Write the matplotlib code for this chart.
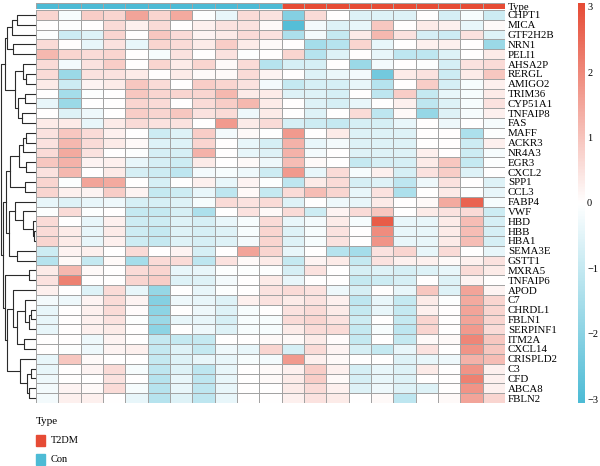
import numpy as np
import matplotlib
matplotlib.use("Agg")
import matplotlib.pyplot as plt
from matplotlib.colors import LinearSegmentedColormap, ListedColormap
from matplotlib.patches import Rectangle

plt.rcParams['font.family'] = ['Liberation Serif', 'DejaVu Serif']

genes = ["CHPT1", "MICA", "GTF2H2B", "NRN1", "PELI1", "AHSA2P", "RERGL", "AMIGO2",
         "TRIM36", "CYP51A1", "TNFAIP8", "FAS", "MAFF", "ACKR3", "NR4A3", "EGR3",
         "CXCL2", "SPP1", "CCL3", "FABP4", "VWF", "HBD", "HBB", "HBA1", "SEMA3E",
         "GSTT1", "MXRA5", "TNFAIP6", "APOD", "C7", "CHRDL1", "FBLN1", "SERPINF1",
         "ITM2A", "CXCL14", "CRISPLD2", "C3", "CFD", "ABCA8", "FBLN2"]

# z-scores, control samples (11 columns)
con_expr = [
    [0.7, -0.15, 0.85, 0.7, 1.55, 0.7, 1.45, -0.05, -0.4, 0.6, 0.5],
    [0.0, -0.05, 0.0, 0.6, 0.25, 0.6, 0.0, 0.25, 0.5, 0.5, 0.1],
    [-0.05, -0.85, -0.55, 0.7, 0.0, 0.95, 0.6, 0.2, 0.35, 0.6, 0.5],
    [0.6, 0.0, -0.4, 0.5, -0.4, 0.7, 0.6, 0.35, 0.85, 0.35, 0.1],
    [1.2, 0.7, 0.6, 0.7, 0.0, -0.15, 0.5, 0.0, 0.5, -0.05, 0.0],
    [0.6, -0.2, 0.5, 0.85, 0.0, 0.7, 0.35, 0.7, 0.1, 0.6, -1.25],
    [0.6, -1.7, 0.5, 0.5, 0.35, 0.0, 0.35, 0.1, 0.1, 0.6, 0.2],
    [0.35, -0.85, 0.2, 0.35, 0.95, 0.6, 0.0, 0.85, 0.7, 0.5, -0.2],
    [0.0, -1.55, -0.05, 0.0, 0.95, 0.7, 0.7, 0.7, 1.2, 0.35, 0.35],
    [-0.4, -1.7, 0.0, 0.0, 0.7, 0.6, 0.0, 0.6, 0.85, 1.2, 0.35],
    [0.0, -0.55, -0.3, 0.0, 0.85, 0.7, 0.95, 0.5, 0.6, -0.3, 0.35],
    [0.35, 0.35, -0.4, 0.35, 0.6, 0.5, 0.5, 0.0, 1.7, 0.35, 0.6],
    [0.5, 0.95, 0.6, 0.25, 0.0, -0.85, -0.55, 0.85, -0.2, 0.1, 0.0],
    [0.5, 1.2, 0.6, 0.35, 0.1, -0.55, -0.55, 0.7, 0.0, -0.4, -0.7],
    [0.6, 1.45, 0.5, 0.0, -0.05, -0.7, -0.7, 1.3, 0.0, -0.4, -0.55],
    [0.95, 1.3, 0.2, 0.25, -0.4, -0.7, -0.85, 0.35, 0.0, 0.1, -0.3],
    [0.5, 1.2, 0.0, 0.35, -0.7, -0.85, -1.1, -0.2, -0.15, -0.3, -0.85],
    [0.7, -0.05, 1.55, 1.45, 0.0, -0.7, 0.0, 0.25, -0.4, 0.2, -0.05],
    [0.7, 0.25, 0.2, 0.85, 0.2, -1.0, -0.85, -0.4, -1.1, 0.1, -1.0],
    [-0.4, -0.55, -0.4, -0.3, -0.7, -0.7, -0.55, -0.15, 0.6, 0.5, 0.6],
    [-0.05, 0.6, -0.05, 0.0, -1.0, -1.0, -0.7, -1.4, 0.0, 0.5, 0.1],
    [0.6, 0.0, -0.4, 0.25, -0.85, -0.85, -0.55, -0.7, -0.4, -0.15, 0.6],
    [0.6, 0.35, -0.4, 0.35, -0.85, -1.0, -0.55, -0.7, -0.55, -0.15, 0.7],
    [0.7, 0.35, -0.4, 0.25, -0.85, -1.0, -0.55, -0.7, -0.55, -0.2, 0.7],
    [-0.85, 0.2, 0.25, 0.0, 0.6, 0.0, 0.2, -0.7, 0.0, 1.55, 0.7],
    [-1.25, 0.1, -1.0, 0.1, -1.55, 0.6, 0.6, -1.1, 0.5, 0.1, 0.35],
    [0.35, 1.2, 0.1, 0.0, 0.6, 0.7, -0.4, -0.4, -0.05, -0.05, -0.05],
    [0.5, 2.15, 0.0, 0.0, 0.7, 0.85, -0.55, -0.55, -0.2, 0.0, 0.35],
    [0.25, 0.0, -0.55, 0.6, -0.4, -1.8, 0.0, -0.4, -0.05, 0.0, 0.5],
    [-0.2, -0.3, 0.2, 0.6, 0.2, -2.1, -0.3, -0.4, -0.55, 0.25, 0.5],
    [-0.4, 0.0, 0.25, 0.6, 0.05, -1.95, 0.0, -0.3, -0.55, -0.15, 0.0],
    [-0.4, 0.0, 0.25, 0.5, -0.05, -1.7, -0.4, -0.4, -0.7, -0.15, -0.15],
    [-0.4, 0.0, 0.25, 0.35, 0.0, -1.95, 0.0, -0.3, -0.55, -0.15, -0.15],
    [0.0, 0.0, -0.3, 0.2, 0.0, -1.0, -1.0, -1.0, 0.0, 0.0, 0.1],
    [0.0, -0.05, -0.3, 0.2, 0.25, -1.0, -0.55, -1.0, -0.3, -0.4, 0.7],
    [-0.4, 0.95, 0.1, 0.0, 0.0, -1.0, -0.55, -0.4, -0.4, -0.15, -0.2],
    [-0.4, 0.0, 0.2, 0.6, -0.15, -1.1, -0.55, -1.1, -0.4, 0.0, 0.1],
    [-0.3, 0.0, 0.0, 0.5, 0.0, -1.25, -0.4, -1.1, -0.4, 0.0, 0.1],
    [-0.2, 0.2, 0.1, 0.6, -0.15, -1.25, -0.4, -1.1, -0.4, 0.0, 0.0],
    [-0.2, 0.25, 0.25, 0.0, -0.4, -1.25, -0.55, -1.1, -0.4, 0.0, 0.0],
]

# z-scores, T2DM samples (10 columns)
t2dm_expr = [
    [-2.1, 0.6, 0.0, -0.55, -0.55, -0.55, 0.0, -0.7, -0.15, -0.85],
    [-2.9, -0.2, -0.55, -0.4, 0.95, 0.0, 0.35, 0.25, -0.4, 0.1],
    [-1.4, -0.2, -1.0, 0.35, 1.2, 0.5, -0.7, -0.85, 0.5, -0.55],
    [0.0, -1.55, -1.25, 0.7, -0.4, 0.0, 0.25, 0.25, 0.0, -1.7],
    [0.7, -1.25, -0.55, 0.0, -0.4, -1.1, -1.1, -0.55, 0.0, 0.35],
    [-0.7, -0.7, 0.0, -1.7, -0.2, 0.0, -0.05, -0.7, 0.5, 0.6],
    [0.0, -0.55, -0.35, -0.2, -2.4, 0.35, 0.5, -0.85, 0.35, 0.95],
    [-1.0, -0.7, -0.7, -0.4, -1.25, 0.0, 0.85, -0.7, -0.15, 0.25],
    [-0.55, -0.55, -0.7, 0.0, -1.1, 0.85, -1.0, -0.4, -0.15, 0.35],
    [0.0, -0.55, -0.7, -0.4, 0.0, 0.25, -1.1, -0.55, -0.15, 0.5],
    [0.0, -0.55, 0.0, 0.6, -1.1, 0.1, -1.8, -0.55, -0.15, 0.25],
    [-0.7, -0.85, -1.0, -0.7, -0.7, -0.4, 0.0, -0.3, 0.0, -0.15],
    [1.7, 0.0, 0.35, -0.55, -0.55, -0.55, 0.0, 0.0, -1.4, -0.05],
    [1.3, -0.4, -0.2, -0.55, -0.55, -0.55, 0.0, 0.0, -0.85, 0.25],
    [1.3, -0.2, 0.0, -0.55, -0.55, -0.55, 0.25, 0.0, -0.85, -0.15],
    [1.1, 0.1, 0.0, -1.0, -0.7, -0.7, 0.35, 0.95, -1.0, -0.05],
    [1.7, -0.4, 0.6, -0.15, 0.25, -0.7, 0.5, 0.85, -0.55, 0.0],
    [-1.1, 0.35, 0.6, -0.7, -0.55, -1.1, -0.3, 0.5, 0.0, -0.55],
    [0.6, 1.1, 0.7, -0.4, 0.5, -1.4, 0.0, 0.35, -0.05, -0.4],
    [-0.55, 0.0, -0.3, -0.4, 0.35, 0.0, 0.1, 1.45, 2.65, -0.15],
    [0.6, -0.85, 0.2, 0.6, 0.95, 0.0, 0.35, 0.5, 0.6, -0.85],
    [-0.4, -0.2, 0.35, -0.15, 2.75, -0.4, -0.4, 0.35, 1.1, -0.7],
    [-0.55, -0.15, 0.5, 0.0, 1.95, -0.4, -0.4, 0.35, 1.1, -0.7],
    [-0.55, -0.15, 0.5, 0.0, 1.8, -0.4, -0.4, 0.35, 1.1, -0.7],
    [-0.4, 0.0, -1.25, -1.55, 0.5, 0.7, -0.4, 0.6, 0.0, -0.4],
    [-1.0, 0.2, 0.35, -1.0, 0.5, 0.25, 0.25, 0.1, 0.25, 0.5],
    [-0.7, 0.5, 0.0, -0.7, -0.55, -0.7, -0.55, -0.4, 0.6, 0.35],
    [-0.4, 0.0, 0.0, -1.0, -0.85, -0.7, 0.0, -0.55, 0.2, 0.0],
    [0.6, 0.5, -0.3, -0.7, 0.0, -0.4, 0.95, -0.55, 1.55, 0.2],
    [0.35, 0.5, 0.25, -1.1, -0.4, -1.0, 0.35, -0.05, 1.45, 0.7],
    [0.5, 0.6, 0.35, -1.0, -0.4, -1.0, 0.25, 0.0, 1.55, 0.7],
    [0.6, 0.7, 0.5, -0.85, 0.0, -1.0, 0.7, 0.0, 1.55, 0.7],
    [0.35, 0.6, 0.6, -1.0, -0.15, -1.1, 0.7, 0.0, 1.7, 0.6],
    [0.1, 0.35, 0.05, -1.0, 0.0, -1.0, 0.1, 0.1, 2.05, 0.95],
    [-0.7, 0.6, 0.2, -0.7, -1.0, -0.4, 0.5, 0.0, 1.8, 0.95],
    [1.7, 0.25, 0.1, 0.0, 0.0, -0.55, -0.4, -0.3, 1.3, 1.1],
    [0.25, 0.85, 0.25, -0.7, -0.4, -0.55, 0.35, 0.0, 1.8, 0.25],
    [0.35, 0.85, 0.1, -0.7, -0.4, -0.55, 0.0, 0.0, 2.15, 0.25],
    [0.35, 0.6, 0.25, -0.55, -0.3, -0.55, -0.55, 0.0, 1.8, 0.25],
    [0.25, 0.5, 0.35, 0.0, 0.1, -1.1, 0.0, 0.1, 1.55, 0.7],
]

n_con = 11
n_t2dm = 10

# row clustering tree: (left, right, merge height), leaves are row indices
grp_a = (((0, 1, 18), 2, 23), (3, 4, 22), 28)
grp_c = ((5, (6, 7, 9), 12), ((8, 9, 10), (10, 11, 13), 17), 20)
grp_d = ((((12, 13, 9), 14, 12), (15, 16, 9), 16), (17, 18, 10), 25)
grp_e = ((19, (20, (21, (22, 23, 1), 2), 12), 20), (24, 25, 18), 26)
grp_f1 = (28, ((29, (((30, 31, 4), 32, 6)), 10), (33, 34, 11), 18), 22)
grp_f2 = (35, ((36, 37, 4), (38, 39, 6), 8), 15)
grp_f = ((26, 27, 6), (grp_f1, grp_f2, 28), 30)
row_tree = ((grp_a, grp_c, 30), ((grp_d, grp_e, 29), grp_f, 32), 34)

con_color = "#4DBBD5"
t2dm_color = "#E64B35"
cmap = LinearSegmentedColormap.from_list("bwr_np", [con_color, "white", t2dm_color])

W, H = 600, 466
fig = plt.figure(figsize=(W / 100, H / 100), dpi=100)


def px_axes(x0, y0, x1, y1):
    return fig.add_axes([x0 / W, 1 - y1 / H, (x1 - x0) / W, (y1 - y0) / H])


data = np.hstack([np.array(con_expr), np.array(t2dm_expr)])
n_rows, n_cols = data.shape

# heatmap
ax = px_axes(36, 10, 505, 403)
mesh = ax.pcolormesh(data, cmap=cmap, vmin=-3.06, vmax=3.06,
                     edgecolors="#A3A3A3", linewidth=0.6)
ax.set_xlim(0, n_cols)
ax.set_ylim(n_rows, 0)
ax.set_xticks([])
ax.yaxis.tick_right()
ax.set_yticks(np.arange(n_rows) + 0.5)
ax.set_yticklabels(genes, fontsize=7.8)
ax.tick_params(axis="y", length=0, pad=2)
for s in ax.spines.values():
    s.set_visible(False)

# annotation bar
ax_ann = px_axes(36, 3, 505, 9)
groups = np.array([[0] * n_con + [1] * n_t2dm])
ax_ann.pcolormesh(groups, cmap=ListedColormap([con_color, t2dm_color]),
                  edgecolors="#A3A3A3", linewidth=0.6)
ax_ann.set_xlim(0, n_cols)
ax_ann.set_xticks([])
ax_ann.yaxis.tick_right()
ax_ann.set_yticks([0.5])
ax_ann.set_yticklabels(["Type"], fontsize=7.8)
ax_ann.tick_params(axis="y", length=0, pad=2)
for s in ax_ann.spines.values():
    s.set_visible(False)

# dendrogram
ax_d = px_axes(0, 10, 35, 403)


def draw_node(node):
    if isinstance(node, int):
        return node + 0.5, 0.0
    left, right, h = node
    yl, hl = draw_node(left)
    yr, hr = draw_node(right)
    ax_d.plot([hl, h, h, hr], [yl, yl, yr, yr], color="#2b2b2b", lw=0.8,
              clip_on=False)
    return (yl + yr) / 2, h


draw_node(row_tree)
ax_d.set_xlim(35, 0)
ax_d.set_ylim(n_rows, 0)
ax_d.axis("off")

# colorbar
cax = px_axes(578, 3, 585, 403)
cb = fig.colorbar(mesh, cax=cax, ticks=[-3, -2, -1, 0, 1, 2, 3])
cb.outline.set_visible(False)
cax.tick_params(length=0, labelsize=7.5, pad=1.5)
cax.set_yticklabels(["\u22123", "\u22122", "\u22121", "0", "1", "2", "3"])

# legend
ax_l = fig.add_axes([0, 0, 1, 1])
ax_l.set_xlim(0, W)
ax_l.set_ylim(H, 0)
ax_l.axis("off")
ax_l.text(36, 422, "Type", fontsize=8, va="center", ha="left")
ax_l.add_patch(Rectangle((36, 435), 9, 11, color=t2dm_color))
ax_l.text(51, 440.5, "T2DM", fontsize=7.5, va="center", ha="left")
ax_l.add_patch(Rectangle((36, 454), 9, 11, color=con_color))
ax_l.text(51, 459.5, "Con", fontsize=7.5, va="center", ha="left")

fig.savefig("out.png", dpi=100)
